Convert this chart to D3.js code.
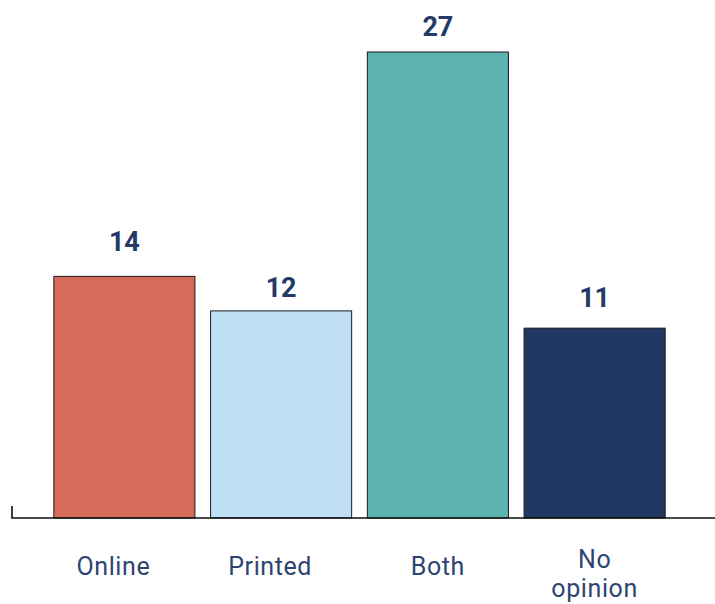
<!DOCTYPE html>
<html>
<head>
<meta charset="utf-8">
<script src="https://cdn.jsdelivr.net/npm/d3@7"></script>
<style>
  html, body { margin: 0; padding: 0; background: #ffffff; }
  svg { display: block; }
</style>
</head>
<body>
<svg id="chart" width="715" height="604"></svg>
<script>
// Survey answers: preferred format
const categories = ["Online", "Printed", "Both", "No opinion"];
const values = [14, 12, 27, 11];
const barColors = ["#d66b5a", "#bfdff5", "#5cb3b0", "#213862"];
const categoryLines = [["Online"], ["Printed"], ["Both"], ["No", "opinion"]];

// Hand-placed label offsets (px): gap above each bar, horizontal shift of category text
const valueGap = [25, 14, 16, 21];
const categoryShift = [-11, -11, 0, 0];

const svg = d3.select("#chart");
const baseY = 518;

const x = d3.scaleBand()
  .domain(categories)
  .range([46, 673])
  .paddingInner(0.1)
  .paddingOuter(0.05);

const y = d3.scaleLinear()
  .domain([0, 27])
  .range([baseY, 52]);

// Bars
svg.append("g")
  .selectAll("rect")
  .data(categories)
  .join("rect")
  .attr("x", d => x(d))
  .attr("y", (d, i) => y(values[i]))
  .attr("width", x.bandwidth())
  .attr("height", (d, i) => y(0) - y(values[i]))
  .attr("fill", (d, i) => barColors[i])
  .attr("stroke", "#1a1a1a")
  .attr("stroke-width", 1);

// Value labels above bars
svg.append("g")
  .selectAll("text")
  .data(categories)
  .join("text")
  .attr("x", d => x(d) + x.bandwidth() / 2)
  .attr("y", (d, i) => y(values[i]) - valueGap[i])
  .attr("text-anchor", "middle")
  .attr("font-family", "Roboto, sans-serif")
  .attr("font-weight", 700)
  .attr("font-size", 27)
  .attr("fill", "#233a66")
  .text((d, i) => values[i]);

// Baseline axis with the small left tick
const axis = d3.axisBottom(x).tickSize(0).tickFormat("");
const gAxis = svg.append("g").attr("transform", `translate(0,${baseY})`).call(axis);
gAxis.select(".domain").remove();
gAxis.append("path")
  .attr("d", "M12,-12V0H715")
  .attr("fill", "none")
  .attr("stroke", "#111111")
  .attr("stroke-width", 1.6);

// Category labels, wrapped over lines
const labels = svg.append("g")
  .selectAll("text")
  .data(categories)
  .join("text")
  .attr("y", (d, i) => categoryLines[i].length > 1 ? 568 : 575)
  .attr("text-anchor", "middle")
  .attr("font-family", "Roboto, sans-serif")
  .attr("font-size", 25)
  .attr("letter-spacing", 0.6)
  .attr("fill", "#2c4570");

labels.each(function(d, i) {
  const t = d3.select(this);
  const cx = x(d) + x.bandwidth() / 2 + categoryShift[i];
  categoryLines[i].forEach((line, j) => {
    t.append("tspan")
      .attr("x", cx)
      .attr("dy", j === 0 ? 0 : 29)
      .text(line);
  });
});
</script>
</body>
</html>
